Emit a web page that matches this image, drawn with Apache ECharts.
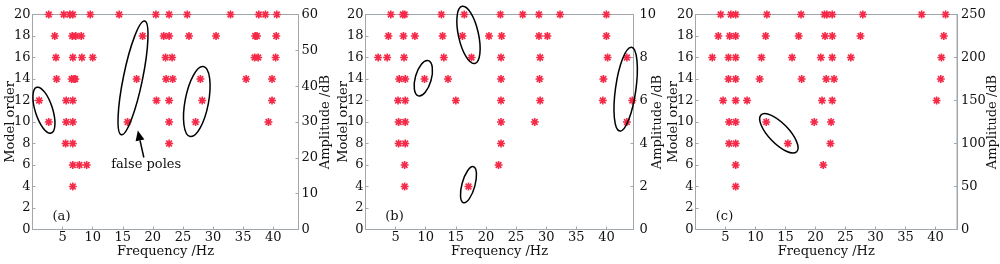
<!DOCTYPE html>
<html>
<head>
<meta charset="utf-8">
<script src="https://cdn.jsdelivr.net/npm/echarts@6/dist/echarts.min.js"></script>
<style>
  html, body { margin: 0; padding: 0; background: #fff; }
  #chart { width: 1000px; height: 264px; }
</style>
</head>
<body>
<div id="chart"></div>
<script>
// model orders (rows of the stabilisation diagram)
var orders = [20, 18, 16, 14, 12, 10, 8, 6, 4];

// pole frequencies (Hz) for each order, panel (a)
var polesA = [
    [2.7, 5.2, 6.2, 6.7, 9.6, 14.4, 20.5, 22.7, 25.7, 32.9, 37.6, 38.7, 40.6],
    [3.7, 6.6, 7.2, 8.1, 18.3, 21.8, 22.7, 26.0, 30.5, 37.0, 37.3, 40.5],
    [3.9, 6.7, 8.2, 10.0, 22.1, 23.2, 36.9, 37.5, 40.4],
    [4.0, 6.5, 6.9, 7.1, 17.3, 22.2, 23.3, 27.9, 35.5, 39.8],
    [1.1, 5.6, 6.7, 20.6, 22.7, 28.2, 39.8],
    [2.7, 5.6, 6.7, 15.8, 22.7, 27.1, 39.2],
    [5.5, 6.7, 22.7],
    [6.7, 7.8, 9.0],
    [6.7]
];
// panel (b)
var polesB = [
    [4.2, 6.2, 6.5, 12.6, 16.4, 22.4, 26.1, 28.8, 32.3, 40.0],
    [3.8, 6.3, 8.2, 12.8, 16.1, 20.5, 22.6, 28.8, 30.2, 40.0],
    [2.1, 3.6, 6.4, 13.0, 17.6, 22.5, 29.0, 40.2, 43.4],
    [5.6, 6.6, 9.8, 13.7, 22.5, 28.9, 39.5],
    [5.4, 6.6, 15.0, 22.5, 29.0, 39.4, 44.3],
    [5.5, 6.6, 22.5, 28.1, 43.4],
    [5.5, 6.6, 22.5],
    [6.5, 22.1],
    [6.5, 17.1]
];
// panel (c)
var polesC = [
    [4.2, 5.9, 6.7, 11.9, 17.6, 21.5, 21.9, 22.8, 27.9, 37.7, 41.7],
    [3.8, 5.7, 6.7, 11.7, 17.2, 21.6, 22.8, 27.5, 41.4],
    [2.8, 5.5, 6.7, 11.0, 16.1, 20.9, 22.8, 25.9, 41.0],
    [5.5, 6.7, 10.7, 17.7, 21.8, 23.1, 40.9],
    [4.6, 6.7, 8.6, 21.1, 22.8, 40.2],
    [5.6, 6.7, 11.8, 19.8, 22.6],
    [5.6, 6.7, 15.4, 22.5],
    [6.7, 21.3],
    [6.7]
];

// right (amplitude) axis ranges
var ampMax = [60, 10, 250];
var ampStep = [10, 2, 50];
var freqMax = [44.2, 44.5, 43.6];
var panelNames = ['(a)', '(b)', '(c)'];

// encircled poles: [panel, freq, order, rx, ry, rotation deg]
var circles = [
    [0, 1.9, 11.1, 8.7, 24, 17.6],
    [0, 16.7, 14.1, 9.6, 58, -11.6],
    [0, 27.3, 11.9, 11.7, 35.6, -10.8],
    [1, 17.1, 18.1, 10, 29.3, 12.5],
    [1, 9.6, 14.07, 8, 18.3, -15.8],
    [1, 17.1, 4.17, 6.5, 18.7, -15.5],
    [1, 43.2, 13.05, 10.2, 42.3, -8],
    [2, 13.9, 8.95, 10, 25.6, 44]
];

var FONT = 'DejaVu Serif';
var AXIS = '#a0a8ae';
var STAR = 'path://M0 4H10V6H0Z M4 0H6V10H4Z M2.17 0.75L9.25 7.83L7.83 9.25L0.75 2.17Z M7.83 0.75L9.25 2.17L2.17 9.25L0.75 7.83Z';

var grids = [
    {left: 32.5, width: 266},
    {left: 365.5, width: 268},
    {left: 695.5, width: 262.5}
];
var rightGap = [21, 17.5, 29];
var rightMargin = [3, 6, 4];

function toPoints(rows) {
    var pts = [];
    rows.forEach(function (row, i) {
        row.forEach(function (f) { pts.push([f, orders[i]]); });
    });
    return pts;
}

var myChart = echarts.init(document.getElementById('chart'), null, {renderer: 'canvas'});
var textStyle = {fontFamily: FONT, fontSize: 13, color: '#111'};

var option = {
    animation: false,
    textStyle: textStyle,
    grid: [],
    xAxis: [],
    yAxis: [],
    series: []
};

[polesA, polesB, polesC].forEach(function (rows, i) {
    option.grid.push({
        left: grids[i].left, width: grids[i].width, top: 14.5, bottom: 34.5,
        show: true, borderColor: AXIS, borderWidth: 1, containLabel: false
    });
    option.xAxis.push({
        type: 'value', gridIndex: i, min: 0, max: freqMax[i], interval: 5,
        name: 'Frequency /Hz', nameLocation: 'middle', nameGap: 16, nameMoveOverlap: false,
        nameTextStyle: textStyle,
        axisLine: {lineStyle: {color: AXIS}},
        axisTick: {inside: true, length: 3, lineStyle: {color: AXIS}},
        axisLabel: {showMinLabel: false, showMaxLabel: false, margin: 2, fontFamily: FONT, fontSize: 13, color: '#111'},
        splitLine: {show: false}
    });
    option.yAxis.push({
        type: 'value', gridIndex: i, min: 0, max: 20, interval: 2,
        name: 'Model order', nameLocation: 'middle', nameGap: 15, nameMoveOverlap: false,
        nameTextStyle: textStyle,
        axisLine: {lineStyle: {color: AXIS}},
        axisTick: {inside: true, length: 3, lineStyle: {color: AXIS}},
        axisLabel: {margin: 2, fontFamily: FONT, fontSize: 13, color: '#111'},
        splitLine: {show: false}
    });
    option.series.push({
        type: 'scatter', xAxisIndex: i, yAxisIndex: i,
        symbol: STAR, symbolSize: 8, clip: false,
        itemStyle: {color: '#f42a48', opacity: 1},
        data: toPoints(rows)
    });
});
[0, 1, 2].forEach(function (i) {
    option.yAxis.push({
        type: 'value', gridIndex: i, position: 'right', min: 0, max: ampMax[i], interval: ampStep[i],
        name: 'Amplitude /dB', nameLocation: 'middle', nameGap: rightGap[i], nameMoveOverlap: false,
        nameTextStyle: textStyle,
        axisLine: {show: true, lineStyle: {color: AXIS}},
        axisTick: {show: true, inside: true, length: 3, lineStyle: {color: AXIS}},
        axisLabel: {margin: rightMargin[i], fontFamily: FONT, fontSize: 13, color: '#111'},
        splitLine: {show: false}
    });
});

myChart.setOption(option);

// annotations placed through the axes
var px = function (s, x, y) { return myChart.convertToPixel({seriesIndex: s}, [x, y]); };
var elements = [];
circles.forEach(function (c) {
    var p = px(c[0], c[1], c[2]);
    elements.push({
        type: 'ellipse', x: p[0], y: p[1], rotation: c[5] * Math.PI / 180,
        shape: {cx: 0, cy: 0, rx: c[3], ry: c[4]},
        style: {fill: null, stroke: '#000', lineWidth: 1.5},
        z: 10
    });
});
panelNames.forEach(function (t, i) {
    elements.push({
        type: 'text', x: grids[i].left + 29, y: 217,
        style: {text: t, fontFamily: FONT, fontSize: 13, fill: '#111', align: 'center', verticalAlign: 'middle'},
        z: 10
    });
});
// arrow + label for false poles
var tail = px(0, 18.5, 6.7), tip = px(0, 17.5, 9.2);
var ang = Math.atan2(tip[1] - tail[1], tip[0] - tail[0]);
var hl = 10, hw = 4.5;
var base = [tip[0] - hl * Math.cos(ang), tip[1] - hl * Math.sin(ang)];
elements.push({
    type: 'line', shape: {x1: tail[0], y1: tail[1], x2: base[0], y2: base[1]},
    style: {stroke: '#000', lineWidth: 1.5}, z: 10
});
elements.push({
    type: 'polygon',
    shape: {points: [tip,
        [base[0] + hw * Math.sin(ang), base[1] - hw * Math.cos(ang)],
        [base[0] - hw * Math.sin(ang), base[1] + hw * Math.cos(ang)]]},
    style: {fill: '#000'}, z: 10
});
var lp = px(0, 18.9, 6.0);
elements.push({
    type: 'text', x: lp[0], y: lp[1],
    style: {text: 'false poles', fontFamily: FONT, fontSize: 13, fill: '#111', align: 'center', verticalAlign: 'middle'},
    z: 10
});
myChart.setOption({graphic: {elements: elements}});
</script>
</body>
</html>
